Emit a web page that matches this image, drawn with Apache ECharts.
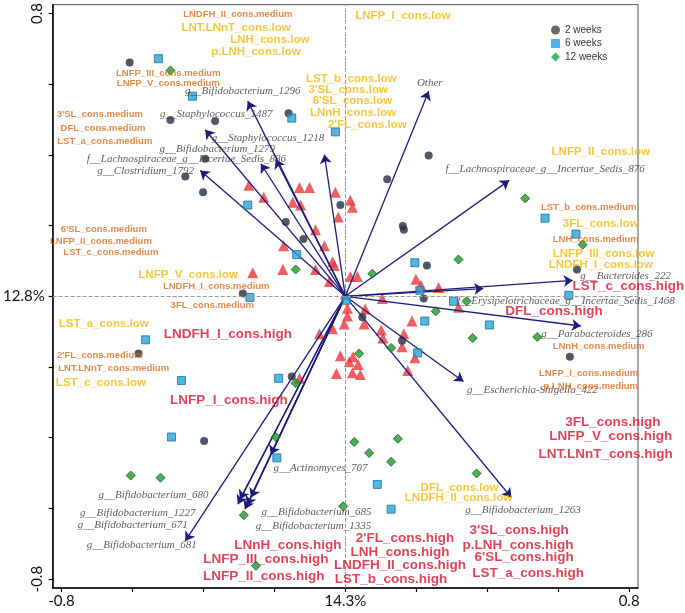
<!DOCTYPE html>
<html><head><meta charset="utf-8">
<script src="https://cdn.jsdelivr.net/npm/echarts@6/dist/echarts.min.js"></script>
<style>html,body{margin:0;padding:0;background:#fff}#c{width:685px;height:613px}</style>
</head><body><div id="c"></div><script>
// axis tick labels
const xTickValues = [-0.8, 0, 0.8];
const xTickLabels = ['-0.8', '14.3%', '0.8'];
const yTickLabels = ['-0.8', '12.8%', '0.8'];

// samples
const weeks2 = [[-0.608,0.661],[-0.493,0.499],[-0.367,0.496],[-0.395,0.389],[-0.451,0.339],[-0.401,0.294],[-0.160,0.518],[0.235,0.398],[0.118,0.331],[-0.014,0.258],[-0.168,0.210],[-0.118,0.162],[0.162,0.199],[0.165,0.188],[0.230,0.087],[0.221,-0.006],[-0.289,0.008],[0.048,-0.059],[0.160,-0.126],[-0.151,-0.227],[0.653,0.076],[0.633,-0.171],[-0.398,-0.409],[-0.583,-0.162]];
const weeks6 = [[-0.527,0.672],[-0.431,0.566],[-0.151,0.504],[-0.028,0.465],[-0.275,0.258],[-0.137,0.118],[0.196,0.095],[0.210,0.017],[0.305,-0.014],[0.003,-0.011],[-0.269,-0.003],[0.224,-0.070],[0.204,-0.160],[-0.188,-0.232],[0.563,0.221],[0.650,0.176],[0.630,0.003],[0.406,-0.081],[-0.563,-0.123],[-0.462,-0.238],[-0.490,-0.398],[-0.193,-0.457],[0.090,-0.532],[0.129,-0.602]];
const weeks12 = [[-0.493,0.639],[0.507,0.277],[0.319,0.104],[-0.140,0.076],[0.076,0.064],[0.255,-0.042],[0.129,-0.146],[0.039,-0.162],[-0.140,-0.246],[0.669,0.146],[0.342,-0.014],[0.359,-0.118],[0.541,-0.115],[-0.605,-0.507],[-0.521,-0.513],[-0.196,-0.398],[0.025,-0.412],[0.148,-0.403],[0.067,-0.443],[0.129,-0.468],[-0.006,-0.594],[-0.286,-0.619],[-0.252,-0.762],[0.370,-0.501]];
const hmoPoints = [[-0.272,0.314],[-0.230,0.280],[-0.129,0.308],[-0.101,0.308],[-0.028,0.294],[0.014,0.272],[0.020,0.252],[-0.148,0.266],[-0.126,0.258],[-0.020,0.224],[-0.084,0.188],[-0.059,0.143],[-0.174,0.143],[-0.261,0.067],[-0.176,0.076],[-0.084,0.076],[-0.036,0.098],[-0.031,0.087],[-0.045,0.042],[0.014,0.056],[0.034,0.056],[0.104,-0.006],[0.199,0.048],[0.213,0.031],[0.263,0.025],[0.319,-0.031],[0.006,-0.034],[0.056,-0.036],[0.006,-0.056],[-0.003,-0.078],[0.053,-0.078],[-0.073,-0.106],[-0.036,-0.092],[0.188,-0.070],[0.101,-0.095],[0.106,-0.118],[0.165,-0.106],[0.160,-0.143],[0.196,-0.174],[0.176,-0.210],[-0.014,-0.168],[0.022,-0.171],[0.011,-0.185],[0.036,-0.193],[-0.025,-0.218],[0.020,-0.216],[0.042,-0.221],[-0.129,-0.232],[0.000,0.006]];

// taxa vectors (tips)
const taxaVectors = [[0.235,0.580],[-0.275,0.552],[-0.395,0.471],[-0.059,0.401],[-0.196,0.387],[-0.238,0.375],[-0.409,0.356],[0.462,0.328],[0.641,0.045],[0.389,0.022],[0.664,-0.084],[0.333,-0.241],[0.468,-0.569],[-0.451,-0.692],[-0.210,-0.448],[-0.297,-0.574],[-0.303,-0.588],[-0.283,-0.602],[-0.266,-0.569],[-0.277,-0.591]];

// labels [text, x, y]
const taxaLabels = [["Other",0.238,0.602],["g__Bifidobacterium_1296",-0.289,0.580],["g__Staphylococcus_1487",-0.364,0.515],["g__Staphylococcus_1218",-0.218,0.448],["g__Bifidobacterium_1279",-0.361,0.415],["f__Lachnospiraceae_g__Incertae_Sedis_886",-0.448,0.387],["g__Clostridium_1792",-0.563,0.353],["f__Lachnospiraceae_g__Incertae_Sedis_876",0.563,0.361],["g__Bacteroides_222",0.790,0.056],["f__Erysipelotrichaceae_g__Incertae_Sedis_1468",0.622,-0.014],["g__Parabacteroides_286",0.709,-0.106],["g__Escherichia-Shigella_422",0.527,-0.266],["g__Bifidobacterium_1263",0.501,-0.605],["g__Actinomyces_707",-0.070,-0.485],["g__Bifidobacterium_685",-0.081,-0.611],["g__Bifidobacterium_1335",-0.090,-0.650],["g__Bifidobacterium_680",-0.541,-0.563],["g__Bifidobacterium_1227",-0.585,-0.613],["g__Bifidobacterium_671",-0.599,-0.647],["g__Bifidobacterium_681",-0.574,-0.703]];
const mediumLabels = [["LNDFH_II_cons.medium",-0.303,0.798],["LNFP_III_cons.medium",-0.499,0.630],["LNFP_V_cons.medium",-0.499,0.602],["3'SL_cons.medium",-0.692,0.515],["DFL_cons.medium",-0.683,0.476],["LST_a_cons.medium",-0.678,0.437],["6'SL_cons.medium",-0.681,0.190],["LNFP_II_cons.medium",-0.689,0.154],["LST_c_cons.medium",-0.661,0.123],["LNDFH_I_cons.medium",-0.364,0.028],["3FL_cons.medium",-0.375,-0.025],["2'FL_cons.medium",-0.692,-0.168],["LNT.LNnT_cons.medium",-0.653,-0.204],["LST_b_cons.medium",0.686,0.252],["LNH_cons.medium",0.706,0.162],["LNnH_cons.medium",0.714,-0.143],["LNFP_I_cons.medium",0.686,-0.218],["p.LNH_cons.medium",0.692,-0.255]];
const lowLabels = [["LNT.LNnT_cons.low",-0.308,0.759],["LNH_cons.low",-0.213,0.725],["p.LNH_cons.low",-0.252,0.692],["LNFP_I_cons.low",0.162,0.793],["LST_b_cons.low",0.017,0.616],["3'SL_cons.low",0.008,0.583],["6'SL_cons.low",0.020,0.552],["LNnH_cons.low",0.022,0.518],["2'FL_cons.low",0.062,0.485],["LNFP_II_cons.low",0.720,0.409],["3FL_cons.low",0.720,0.204],["LNFP_III_cons.low",0.728,0.120],["LNDFH_I_cons.low",0.720,0.090],["LNFP_V_cons.low",-0.443,0.062],["LST_a_cons.low",-0.681,-0.078],["LST_c_cons.low",-0.689,-0.244],["DFL_cons.low",0.322,-0.541],["LNDFH_II_cons.low",0.319,-0.571]];
const highLabels = [["LST_c_cons.high",0.798,0.028],["DFL_cons.high",0.588,-0.042],["LNDFH_I_cons.high",-0.331,-0.106],["LNFP_I_cons.high",-0.328,-0.294],["3FL_cons.high",0.754,-0.356],["LNFP_V_cons.high",0.748,-0.395],["LNT.LNnT_cons.high",0.734,-0.448],["3'SL_cons.high",0.490,-0.661],["p.LNH_cons.high",0.487,-0.703],["6'SL_cons.high",0.504,-0.739],["LST_a_cons.high",0.515,-0.784],["2'FL_cons.high",0.168,-0.683],["LNH_cons.high",0.154,-0.723],["LNDFH_II_cons.high",0.154,-0.762],["LST_b_cons.high",0.129,-0.801],["LNnH_cons.high",-0.162,-0.703],["LNFP_III_cons.high",-0.224,-0.745],["LNFP_II_cons.high",-0.230,-0.793]];

const chart = echarts.init(document.getElementById('c'), null, {renderer: 'canvas'});
const ticks = [-0.8,-0.6,-0.4,-0.2,0,0.2,0.4,0.6,0.8];
function fmt(labels){ return function(v){ const i = xTickValues.findIndex(t => Math.abs(t - v) < 1e-6); return i >= 0 ? labels[i] : ''; }; }
function textSeries(arr, style, z){
  return {type:'scatter', symbolSize:0, silent:true, z:z,
    data: arr.map(d => ({name:d[0], value:[d[1], d[2]]})),
    label:{show:true, position:'inside', formatter:'{b}', align:'center', verticalAlign:'middle', ...style}};
}
chart.setOption({
  animation:false,
  grid:{left:49, right:47, top:1, bottom:25, show:true, borderColor:'#555', borderWidth:1},
  legend:{orient:'vertical', left:546, top:20, itemWidth:9, itemHeight:9, itemGap:3.5,
    textStyle:{fontFamily:'Liberation Sans', fontSize:10, color:'#333'},
    data:[{name:'2 weeks', icon:'circle', itemStyle:{color:'#444', borderWidth:0}},
          {name:'6 weeks', icon:'rect', itemStyle:{color:'#19a3ef', borderWidth:0}},
          {name:'12 weeks', icon:'diamond', itemStyle:{color:'#17a24a', borderWidth:0}}]},
  xAxis:{type:'value', min:-0.825, max:0.825,
    axisLine:{show:true, onZero:false, lineStyle:{color:'#000', width:1.5}},
    axisTick:{show:true, customValues:ticks, length:4, lineStyle:{color:'#000', width:1.2}},
    axisLabel:{customValues:xTickValues, formatter:fmt(xTickLabels), fontFamily:'Lato', fontSize:15, color:'#111', margin:6},
    splitLine:{show:false}},
  yAxis:[{type:'value', min:-0.825, max:0.825,
    axisLine:{show:true, onZero:false, lineStyle:{color:'#000', width:1.5}},
    axisTick:{show:true, customValues:ticks, length:4, lineStyle:{color:'#000', width:1.2}},
    axisLabel:{customValues:[-0.8, 0.8], rotate:90, formatter:function(v){return v<0?yTickLabels[0]:yTickLabels[2];}, fontFamily:'Lato', fontSize:15, color:'#111', margin:8},
    splitLine:{show:false}},
    {type:'value', min:-0.825, max:0.825, position:'left',
    axisLine:{show:false}, axisTick:{show:false},
    axisLabel:{customValues:[0], formatter:function(){return yTickLabels[1];}, fontFamily:'Lato', fontSize:15, color:'#111', margin:8},
    splitLine:{show:false}}],
  series:[
    {name:'HMO', type:'scatter', symbol:'triangle', symbolSize:11, z:2, silent:true,
     itemStyle:{color:'#e8373a'}, data:hmoPoints,
     markLine:{silent:true, symbol:'none', label:{show:false}, lineStyle:{color:'#999', type:'dashed', width:1},
       data:[{xAxis:0},{yAxis:0}]}},
    {name:'taxa', type:'lines', coordinateSystem:'cartesian2d', z:3, silent:true,
     symbol:['none','arrow'], symbolSize:9,
     lineStyle:{color:'#1c1c7c', width:1.3, opacity:1},
     data: taxaVectors.map(t => ({coords:[[0,0],[t[0],t[1]]]}))},
    {name:'2 weeks', type:'scatter', symbol:'circle', symbolSize:8, z:4, itemStyle:{color:'#233040'}, data:weeks2},
    {name:'6 weeks', type:'scatter', symbol:'rect', symbolSize:8, z:4, itemStyle:{color:'#2aa3d6', borderColor:'#1a6e9e', borderWidth:1}, data:weeks6},
    {name:'12 weeks', type:'scatter', symbol:'diamond', symbolSize:9, z:4, itemStyle:{color:'#1f9a2b', borderColor:'#155d1c', borderWidth:1}, data:weeks12},
    textSeries(taxaLabels, {fontFamily:'Liberation Serif', fontStyle:'italic', fontSize:11, color:'#333'}, 5),
    textSeries(mediumLabels, {fontFamily:'Liberation Sans', fontWeight:'bold', fontSize:9.5, color:'#db6a1d'}, 6),
    textSeries(lowLabels, {fontFamily:'Liberation Sans', fontWeight:'bold', fontSize:11.5, color:'#f6b80c'}, 6),
    textSeries(highLabels, {fontFamily:'Liberation Sans', fontWeight:'bold', fontSize:13.5, color:'#d8132e'}, 6)
  ]
});
</script></body></html>
